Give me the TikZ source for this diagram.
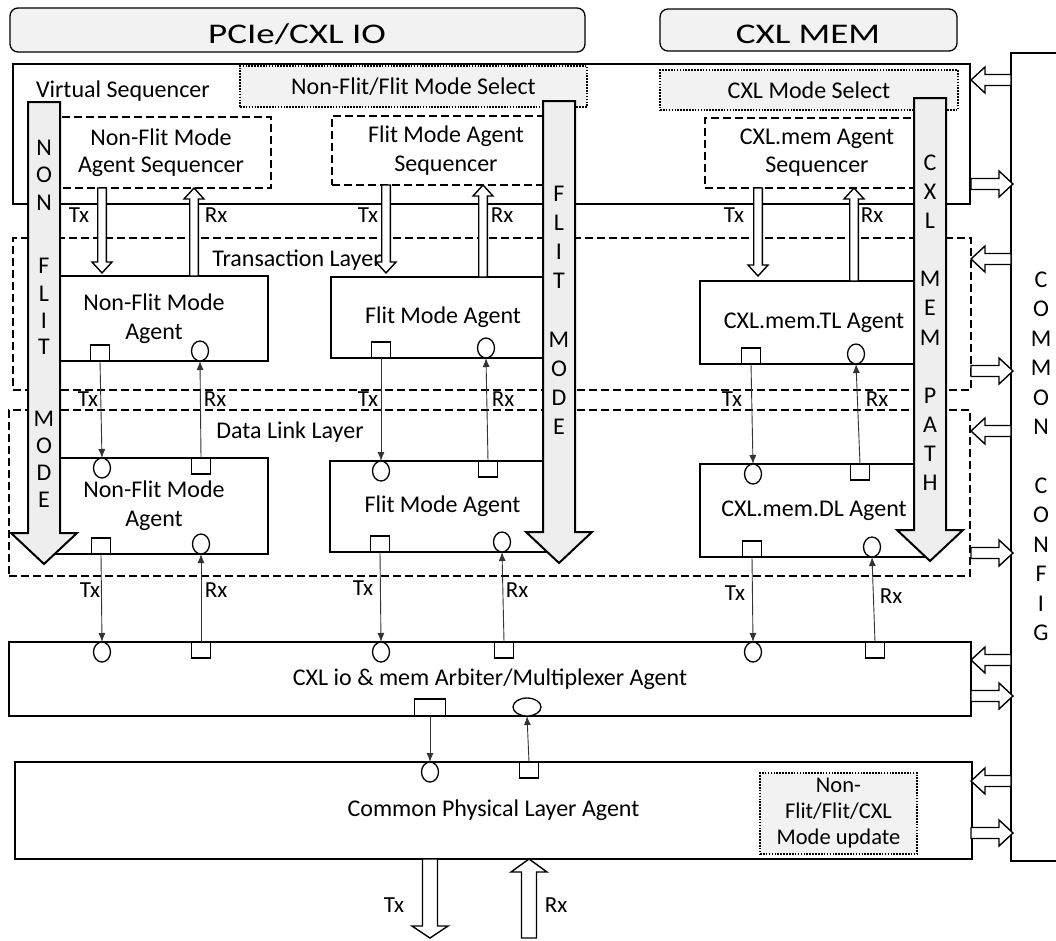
\documentclass[tikz,border=0pt]{standalone}
\usepackage{fontspec}
\usepackage{graphicx}
\setmainfont{Carlito}
\usetikzlibrary{calc,shapes.geometric,arrows.meta}
\definecolor{lightfill}{HTML}{F2F2F2}
\definecolor{arrowfill}{HTML}{EEEEEE}
\newcommand\mkbox[7]{\node[#1, minimum width={#5-#3}, minimum height={#6-#4}] (#2) at ({(#3+#5)/2},{(#4+#6)/2}) {#7};}
\begin{document}
\begin{tikzpicture}[x=1pt,y=-1pt,
 every node/.style={inner sep=0pt, outer sep=0pt, font=\fontsize{24}{28}\selectfont},
 sbox/.style={draw, line width=2pt, align=center},
 dbox/.style={draw, line width=2pt, dash pattern=on 8pt off 4pt, align=center},
 obox/.style={draw, line width=2.2pt, dash pattern=on 1.6pt off 1.3pt, fill=lightfill, align=center},
 tbox/.style={draw, line width=1.3pt, rounded corners=8pt, fill=lightfill},
 bigarrow/.style={draw, line width=2pt, fill=arrowfill, line join=miter},
 sq/.style={draw, line width=1.6pt, fill=white, minimum width=19pt, minimum height=16pt},
 ci/.style={draw, ellipse, line width=1.3pt, fill=white, minimum width=17pt, minimum height=20pt},
 conn/.style={line width=0.9pt, draw=black!80, -{Latex[length=9pt,width=7pt]}},
 lbl/.style={font=\fontsize{23}{26}\selectfont},
 hol/.style n args={3}{draw=black, line width=1.4pt, fill=white, line join=miter,
  to path={let \p1=(\tikztostart), \p2=(\tikztotarget),
   \n1={veclen(\x2-\x1,\y2-\y1)}, \n2={(\x2-\x1)/\n1}, \n3={(\y2-\y1)/\n1} in
   ($(\p1)+({-#1*\n3*1pt},{#1*\n2*1pt})$)
   -- ($(\p2)+({(-#3*\n2-#1*\n3)*1pt},{(-#3*\n3+#1*\n2)*1pt})$)
   -- ($(\p2)+({(-#3*\n2-#2*\n3)*1pt},{(-#3*\n3+#2*\n2)*1pt})$)
   -- (\p2)
   -- ($(\p2)+({(-#3*\n2+#2*\n3)*1pt},{(-#3*\n3-#2*\n2)*1pt})$)
   -- ($(\p2)+({(-#3*\n2+#1*\n3)*1pt},{(-#3*\n3-#1*\n2)*1pt})$)
   -- ($(\p1)+({#1*\n3*1pt},{-#1*\n2*1pt})$) -- cycle}}
]
\useasboundingbox (0,0) rectangle (1056,940);

% title boxes
\mkbox{tbox}{pcie}{10}{8}{585}{52}{}
\mkbox{tbox}{cxlmem}{660}{9}{957}{51}{}
\node[anchor=base] (pcieT) at (297,43) {\scalebox{1.3}[1]{\fontsize{28.5}{30}\selectfont PCIe/CXL IO}};
\node[anchor=base] (cxlmemT) at (808,43) {\scalebox{1.3}[1]{\fontsize{28.5}{30}\selectfont CXL MEM}};

% config box (right side cut by the page)
\mkbox{sbox}{cfg}{1011}{53}{1085}{861}{}

% virtual sequencer
\mkbox{sbox}{vs}{13}{64}{970}{204}{}
\node[anchor=base west] (vsT) at (36,97) {Virtual Sequencer};
\mkbox{obox}{nfsel}{240}{66}{587}{107}{Non-Flit/Flit Mode Select}
\mkbox{obox}{cxlsel}{660}{70}{958}{110}{CXL Mode Select}
\mkbox{dbox, font=\fontsize{24}{27}\selectfont}{nfseq}{51}{117}{271}{188}{Non-Flit Mode\\Agent Sequencer}
\mkbox{dbox, font=\fontsize{24}{29}\selectfont}{fseq}{332}{116}{560}{185}{Flit Mode Agent\\Sequencer}
\mkbox{dbox, font=\fontsize{24}{28}\selectfont}{cseq}{705}{118}{929}{188}{CXL.mem Agent\\Sequencer}

% layers
\mkbox{dbox}{tl}{13}{238}{971}{390}{}
\node[anchor=base] (tlT) at (297,266) {Transaction Layer};
\mkbox{dbox}{dl}{9}{410}{970}{576}{}
\node[anchor=base] (dlT) at (290,438) {Data Link Layer};

% agents
\mkbox{sbox, font=\fontsize{24}{29}\selectfont}{tla}{40}{276}{268}{361}{Non-Flit Mode\\Agent}
\mkbox{sbox}{tlb}{331}{277}{555}{358}{Flit Mode Agent}
\mkbox{sbox}{tlc}{700}{281}{928}{364}{CXL.mem.TL Agent}
\mkbox{sbox, font=\fontsize{24}{29}\selectfont}{dla}{40}{458}{268}{554}{Non-Flit Mode\\Agent}
\mkbox{sbox}{dlb}{330}{461}{555}{552}{Flit Mode Agent}
\mkbox{sbox}{dlc}{700}{464}{928}{557}{CXL.mem.DL Agent}

% arbiter and physical layer
\mkbox{sbox}{arb}{9}{642}{971}{716}{CXL io \& mem Arbiter/Multiplexer Agent}
\mkbox{sbox}{phy}{15}{762}{972}{859}{Common Physical Layer Agent}
\mkbox{obox, font=\fontsize{22.5}{26}\selectfont}{modeup}{760}{773}{917}{854}{Non-\\Flit/Flit/CXL\\Mode update}

% hollow arrows sequencer <-> transaction layer
\coordinate (sTxA1) at (102,188); \coordinate (sTxA2) at (102,273);
\coordinate (sRxA1) at (194,276); \coordinate (sRxA2) at (194,188);
\coordinate (sTxB1) at (386,185); \coordinate (sTxB2) at (386,273);
\coordinate (sRxB1) at (483,277); \coordinate (sRxB2) at (483,185);
\coordinate (sTxC1) at (758,188); \coordinate (sTxC2) at (758,276);
\coordinate (sRxC1) at (854,281); \coordinate (sRxC2) at (854,188);
\foreach \c in {A,B,C}{
  \draw[hol={4.3}{10}{11}] (sTx\c1) to (sTx\c2);
  \draw[hol={4.3}{10}{11}] (sRx\c1) to (sRx\c2);
}

% config arrows
\foreach \y [count=\i] in {80,259,431,660,781}{
  \coordinate (cfgL\i) at (1011,\y); \coordinate (boxL\i) at (971,\y);
  \draw[hol={5.5}{13}{14}] (cfgL\i) to (boxL\i);
}
\foreach \y [count=\i] in {184,371,553,696,833}{
  \coordinate (boxR\i) at (971,\y); \coordinate (cfgR\i) at (1013,\y);
  \draw[hol={5.5}{13}{14}] (boxR\i) to (cfgR\i);
}

% big mode arrows
\draw[bigarrow] (28,102) -- (60,102) -- (60,533) -- (77,533) -- (44,564) -- (11,533) -- (28,533) -- cycle;
\draw[bigarrow] (543,101) -- (575,101) -- (575,532) -- (592,532) -- (559,563) -- (526,532) -- (543,532) -- cycle;
\draw[bigarrow] (914,98) -- (946,98) -- (946,530) -- (963,530) -- (930,561) -- (897,530) -- (914,530) -- cycle;
\foreach \l/\y [count=\i] in {N/148,O/175,N/203,F/266,L/294,I/321,T/347,M/419,O/446,D/473,E/500}
  \node (nfm\i) at (44,\y) {\l};
\foreach \l/\y [count=\i] in {F/194,L/223,I/252,T/281,M/340,O/369,D/398,E/427}
  \node (fm\i) at (559,\y) {\l};
\foreach \l/\y [count=\i] in {C/163,X/192,L/221,M/279,E/308,M/338,P/396,A/425,T/454,H/483}
  \node (cmp\i) at (930,\y) {\l};
\foreach \l/\y [count=\i] in {C/280,O/309,M/339,M/368,O/398,N/427,C/486,O/515,N/545,F/574,I/604,G/633}
  \node (cc\i) at (1041,\y) {\l};

% ports
\foreach \nm/\x/\y/\a in {tlTxA/100/361/south, tlTxB/381/358/south, tlTxC/751/364/south,
  dlRxOutA/201/458/north, dlRxOutB/488/461/north, dlRxOutC/860/464/north,
  dlTxOutA/101/554/south, dlTxOutB/380/552/south, dlTxOutC/752/557/south,
  arRxOutA/201/642/north, arRxOutB/504/642/north, arRxOutC/875/642/north,
  phRxOut/529/762/north}
  \node[sq, anchor=\a] (\nm) at (\x,\y) {};
\foreach \nm/\x/\y/\a in {tlRxA/200/361/south, tlRxB/486/358/south, tlRxC/856/364/south,
  dlTxInA/102/458/north, dlTxInB/381/461/north, dlTxInC/753/464/north,
  dlRxInA/201/554/south, dlRxInB/502/552/south, dlRxInC/872/557/south,
  arTxInA/102/642/north, arTxInB/381/642/north, arTxInC/753/642/north,
  phTxIn/430/762/north}
  \node[ci, anchor=\a] (\nm) at (\x,\y) {};
\node[sq, minimum width=31pt, minimum height=17pt, anchor=south] (arTxOut) at (430,716) {};
\node[ci, minimum width=28pt, minimum height=18pt, anchor=south] (arRxIn) at (527,716) {};

% thin connectors
\foreach \c in {A,B,C}{
  \draw[conn] (tlTx\c.south) -- (dlTxIn\c.north);
  \draw[conn] (dlRxOut\c.north) -- (tlRx\c.south);
  \draw[conn] (dlTxOut\c.south) -- (arTxIn\c.north);
  \draw[conn] (arRxOut\c.north) -- (dlRxIn\c.south);
}
\draw[conn] (arTxOut.south) -- (phTxIn.north);
\draw[conn] (phRxOut.north) -- (arRxIn.south);

% bottom Tx / Rx
\coordinate (botTx) at (430,938);
\coordinate (botRx) at (529,938);
\draw[hol={7.5}{18}{12}] (phy.south -| phTxIn) to (botTx);
\draw[hol={7.5}{18}{13}] (botRx) to (phy.south -| phRxOut);

% labels
\foreach \t/\x/\y [count=\i] in {Tx/79/222, Rx/216/222, Tx/368/222, Rx/502/222, Tx/734/222, Rx/872/222,
  Tx/88/406, Rx/215/406, Tx/368/406, Rx/503/406, Tx/732/406, Rx/877/406,
  Tx/90/597, Rx/216/597, Tx/363/595, Rx/517/597, Tx/735/600, Rx/891/603,
  Tx/394/912, Rx/556/912}
  \node[lbl, anchor=base] (lab\i) at (\x,\y) {\t};
\end{tikzpicture}
\end{document}
